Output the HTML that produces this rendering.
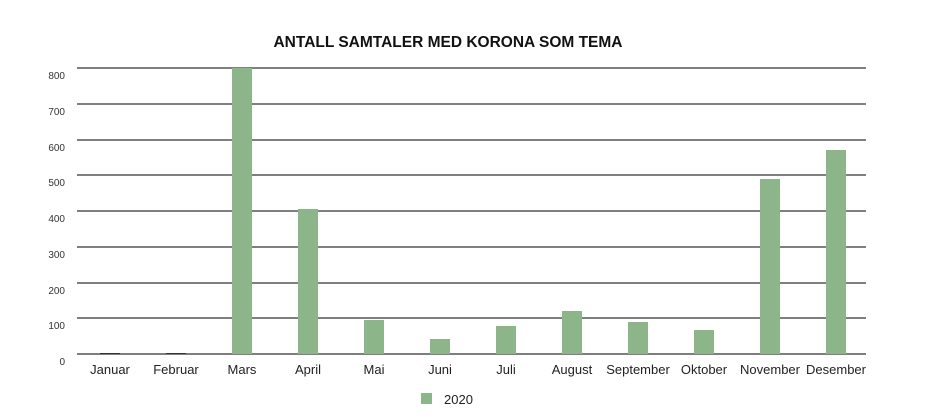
<!DOCTYPE html>
<html><head><style>body{margin:0;background:#fff}svg{display:block}</style></head><body>
<svg width="938" height="418" xmlns="http://www.w3.org/2000/svg" font-family="Liberation Sans, sans-serif">
<text x="448" y="47" text-anchor="middle" font-size="15.5" font-weight="bold" fill="#111">ANTALL SAMTALER MED KORONA SOM TEMA</text>
<g stroke="#333" stroke-width="1.3">
<line x1="77" x2="866" y1="68" y2="68"/><line x1="77" x2="866" y1="104" y2="104"/>
<line x1="77" x2="866" y1="140" y2="140"/><line x1="77" x2="866" y1="175" y2="175"/>
<line x1="77" x2="866" y1="211" y2="211"/><line x1="77" x2="866" y1="247" y2="247"/>
<line x1="77" x2="866" y1="283" y2="283"/><line x1="77" x2="866" y1="318" y2="318"/>
<line x1="77" x2="866" y1="354" y2="354"/>
</g>
<g font-size="10" fill="#333" text-anchor="end">
<text x="65" y="79">800</text><text x="65" y="115">700</text><text x="65" y="151">600</text>
<text x="65" y="186">500</text><text x="65" y="222">400</text><text x="65" y="258">300</text>
<text x="65" y="294">200</text><text x="65" y="329">100</text><text x="65" y="365">0</text>
</g>
<g fill="#8db58a">
<rect x="100" y="353" width="20" height="1" fill="#333"/>
<rect x="166" y="353" width="20" height="1" fill="#333"/>
<rect x="232" y="68" width="20" height="286"/>
<rect x="298" y="209" width="20" height="145"/>
<rect x="364" y="320" width="20" height="34"/>
<rect x="430" y="339" width="20" height="15"/>
<rect x="496" y="326" width="20" height="28"/>
<rect x="562" y="311" width="20" height="43"/>
<rect x="628" y="322" width="20" height="32"/>
<rect x="694" y="330" width="20" height="24"/>
<rect x="760" y="179" width="20" height="175"/>
<rect x="826" y="150" width="20" height="204"/>
</g>
<g font-size="13" fill="#222" text-anchor="middle">
<text x="110" y="374">Januar</text><text x="176" y="374">Februar</text><text x="242" y="374">Mars</text>
<text x="308" y="374">April</text><text x="374" y="374">Mai</text><text x="440" y="374">Juni</text>
<text x="506" y="374">Juli</text><text x="572" y="374">August</text><text x="638" y="374">September</text>
<text x="704" y="374">Oktober</text><text x="770" y="374">November</text><text x="836" y="374">Desember</text>
</g>
<rect x="421" y="393" width="11" height="11" fill="#8db58a"/>
<text x="444" y="404" font-size="13" fill="#222">2020</text>
</svg>
</body></html>
